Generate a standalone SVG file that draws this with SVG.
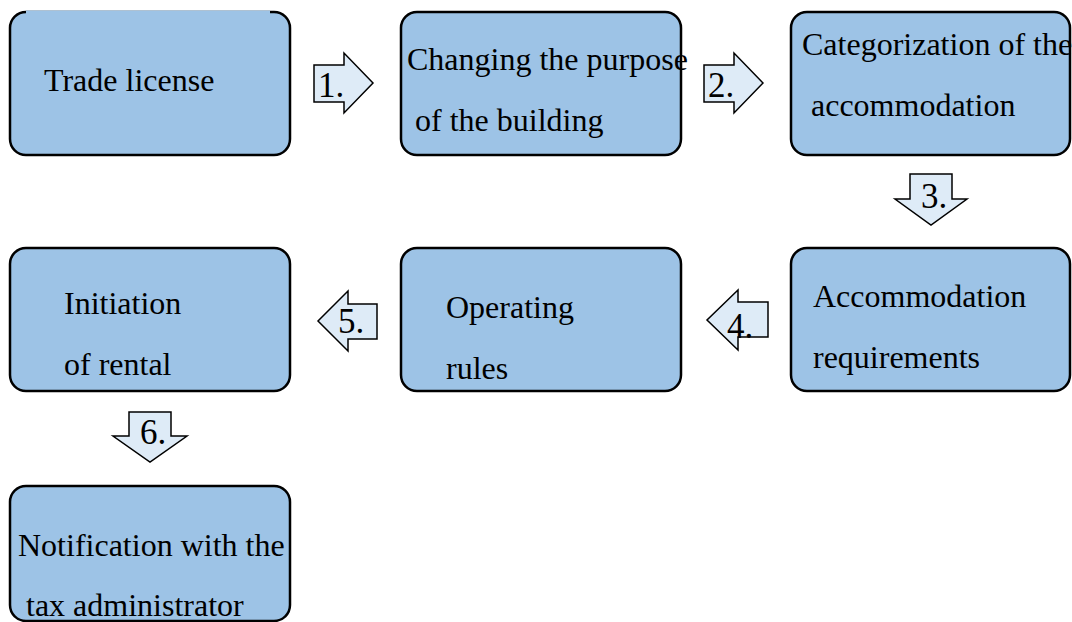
<svg xmlns="http://www.w3.org/2000/svg" width="1072" height="622" viewBox="0 0 1072 622">
<style>
.box{fill:#9DC3E6;stroke:#000;stroke-width:2.5}
.arr{fill:#DEEBF7;stroke:#000;stroke-width:1.5;stroke-linejoin:miter}
.t{font-family:"Liberation Serif","Times New Roman",serif;font-size:32px;fill:#000}
.n{font-family:"Liberation Serif","Times New Roman",serif;font-size:35px;fill:#000}
</style>
<rect width="1072" height="622" fill="#fff"/>
<g id="connectors">
<g id="a1"><path class="arr" d="M314,65 H344 V53 L373,83 L344,113 V102 H314 Z"/><text class="n" x="318" y="97">1.</text></g>
<g id="a2"><path class="arr" d="M704,65 H734 V53 L763,83 L734,113 V102 H704 Z"/><text class="n" x="708" y="97">2.</text></g>
<g id="a3"><path class="arr" d="M910,174 H952 V199 H967 L931,225 L895,199 H910 Z"/><text class="n" x="921" y="208">3.</text></g>
<g id="a4"><path class="arr" d="M768,302 V337 H738 V350 L707,320 L738,290 V302 Z"/><text class="n" x="727" y="338">4.</text></g>
<g id="a5"><path class="arr" d="M377,304 V339 H348 V351 L318,321 L348,291 V304 Z"/><text class="n" x="338" y="333">5.</text></g>
<g id="a6"><path class="arr" d="M129,412 H171 V436 H187 L150,462 L113,436 H129 Z"/><text class="n" x="140" y="444">6.</text></g>
</g>
<g id="n1"><rect class="box" x="10" y="12" width="280" height="143" rx="16"/><rect x="26" y="10.5" width="244" height="4" fill="#9DC3E6"/><text class="t" x="44" y="91">Trade license</text></g>
<g id="n2"><rect class="box" x="401" y="12" width="280" height="143" rx="16"/><text class="t" x="407" y="70">Changing the purpose</text><text class="t" x="415" y="131">of the building</text></g>
<g id="n3"><rect class="box" x="791" y="12" width="279" height="143" rx="16"/><text class="t" x="802" y="55">Categorization of the</text><text class="t" x="811" y="116">accommodation</text></g>
<g id="n4"><rect class="box" x="791" y="248" width="279" height="143" rx="16"/><text class="t" x="813" y="307">Accommodation</text><text class="t" x="813" y="368">requirements</text></g>
<g id="n5"><rect class="box" x="401" y="248" width="280" height="143" rx="16"/><text class="t" x="446" y="318">Operating</text><text class="t" x="446" y="379">rules</text></g>
<g id="n6"><rect class="box" x="10" y="248" width="280" height="143" rx="16"/><text class="t" x="64" y="314">Initiation</text><text class="t" x="64" y="375">of rental</text></g>
<g id="n7"><rect class="box" x="10" y="486" width="280" height="135" rx="16"/><text class="t" x="18" y="556">Notification with the</text><text class="t" x="26" y="616">tax administrator</text></g>
</svg>
